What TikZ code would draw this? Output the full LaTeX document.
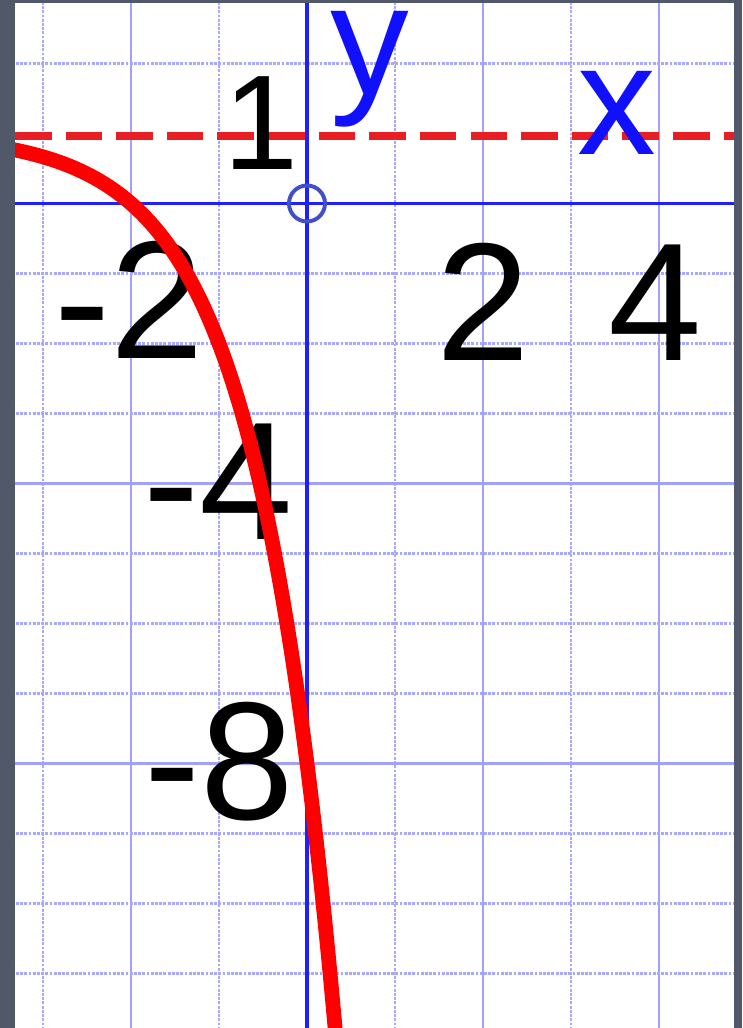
\documentclass[tikz,border=0pt]{standalone}
\usepackage{fontspec}
\setsansfont{Liberation Sans}
\usepackage{tikz}
\definecolor{frm}{HTML}{505869}
\definecolor{gridc}{HTML}{A0A0FF}
\definecolor{gridl}{HTML}{A8A8FF}
\definecolor{axc}{HTML}{2020FF}
\definecolor{lblc}{HTML}{1010FF}
\definecolor{asym}{HTML}{E81E25}
\definecolor{orig}{HTML}{4050C8}
\tikzset{
  major/.style={draw=gridc,line width=1.6pt},
  minor/.style={draw=gridl,line width=1.5pt,dash pattern=on 2pt off 1pt},
  ax/.style={draw=axc,line width=2.8pt},
  num/.style={font=\sffamily\fontsize{119.5}{120}\selectfont,inner sep=0pt,anchor=base},
  vlbl/.style={num,font=\sffamily\fontsize{112}{112}\selectfont,text=lblc},
  curve/.style={draw=red,line width=10.5pt},
  asymp/.style={draw=asym,line width=5.7pt,dash pattern=on 26pt off 10pt},
}

\begin{document}
\begin{tikzpicture}[x=2.2cm,y=1.75cm]
  \fill[frm] (-3.4886,2.9071) rectangle (4.9432,-11.7786);
  \fill[white] (-3.318,2.864) rectangle (4.852,-11.7786);
  \begin{scope}
    \clip (-3.318,2.864) rectangle (4.852,-11.7786);
    \foreach \i in {-3,-1,1,3} \draw[minor] (\i,3) -- (\i,-12);
    \foreach \i in {-2,2,4} \draw[major] (\i,3) -- (\i,-12);
    \foreach \j in {2,-1,-2,-3,-5,-6,-7,-9,-10,-11} \draw[minor] (-3.5,\j) -- (5,\j);
    \foreach \j in {-4,-8} \draw[major] (-3.5,\j) -- (5,\j);
    \coordinate (o) at (0,0);
    \draw[ax] (-3.5,0) -- (5,0);
    \draw[ax] (0,3) -- (0,-12);
    \draw[draw=orig,line width=2.8pt] (o) circle (0.45cm);
    \draw[asymp] (-3.318,0.97) -- (4.852,0.97);
    \node[num] (one) at (-0.528,0.479) {\fontsize{96}{96}\selectfont 1};
    \node[num] (xm2) at (-2.017,-2.221) {-2};
    \node[num] (xp2) at (2.006,-2.236) {2};
    \node[num] (xp4) at (3.96,-2.236) {4};
    \node[num] (ym4) at (-1.006,-4.807) {-4};
    \node[num] (ym8) at (-1.0,-8.807) {-8};
    \node[vlbl] (ylbl) at (0.71,1.55) {y};
    \node[vlbl] (xlbl) at (3.52,0.693) {x};
    \draw[curve] plot[domain=-3.4:0.34,samples=160] (\x,{1-3^(\x+2)});
  \end{scope}
\end{tikzpicture}
\end{document}
